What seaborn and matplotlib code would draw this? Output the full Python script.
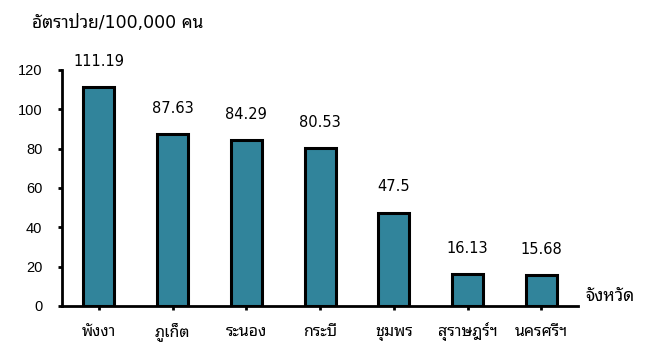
import matplotlib
matplotlib.use("Agg")
import matplotlib.pyplot as plt
import seaborn as sns
import pandas as pd

provinces = ["พังงา", "ภูเก็ต", "ระนอง", "กระบี่", "ชุมพร", "สุราษฎร์ฯ", "นครศรีฯ"]
rates = [111.19, 87.63, 84.29, 80.53, 47.5, 16.13, 15.68]
rate_labels = ["111.19", "87.63", "84.29", "80.53", "47.5", "16.13", "15.68"]
y_ticks = [0, 20, 40, 60, 80, 100, 120]

sns.set_theme(style="white")
thai = ["Noto Sans Thai Looped", "DejaVu Sans"]
num_font = ["DejaVu Sans", "Noto Sans Thai Looped"]
plt.rcParams["font.family"] = thai

df = pd.DataFrame({"province": provinces, "rate": rates})

fig = plt.figure(figsize=(6.52, 3.43), dpi=100)
ax = fig.add_axes([0.095, 0.108, 0.792, 0.688])

sns.barplot(data=df, x="province", y="rate", color="#31849B", saturation=1,
            edgecolor="black", linewidth=2.2, width=0.42, ax=ax)

for i, (v, lab) in enumerate(zip(rates, rate_labels)):
    ax.annotate(lab, (i, v), xytext=(0, 13), textcoords="offset points",
                ha="center", va="bottom", fontsize=10.5, family=num_font, color="black")

ax.set_xlim(-0.5, 6.5)
ax.set_ylim(0, 120)
ax.set_yticks(y_ticks)
ax.set_yticklabels([str(t) for t in y_ticks], family=["Liberation Sans"], fontsize=10.5)
ax.set_xticks(range(len(provinces)))
ax.set_xticklabels(provinces, fontsize=11.5, family=thai)
for lbl in ax.get_xticklabels():
    lbl.set_verticalalignment("baseline")
ax.set_xlabel("")
ax.set_ylabel("")

for s in ["top", "right"]:
    ax.spines[s].set_visible(False)
for s in ["left", "bottom"]:
    ax.spines[s].set_linewidth(2)
    ax.spines[s].set_color("black")

ax.tick_params(axis="y", which="major", direction="out", length=3, width=2,
               color="black", left=True, pad=11, labelcolor="black")
ax.tick_params(axis="x", which="major", direction="out", length=3, width=2,
               color="black", bottom=True, pad=18.5, labelcolor="black")

fig.text(0.049, 0.933, "อัตราป่วย/100,000 คน", fontsize=12.5, family=num_font,
         ha="left", va="center", color="black")
fig.text(0.898, 0.137, "จังหวัด", fontsize=12.5, family=thai,
         ha="left", va="center", color="black")

fig.savefig("out.png", dpi=100)
